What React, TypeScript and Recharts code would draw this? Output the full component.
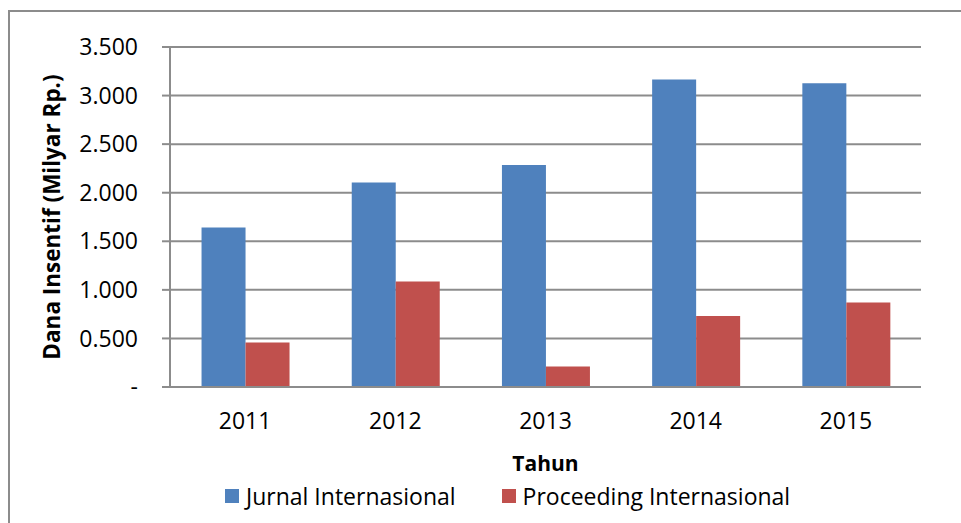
import React from "react";
import {
  BarChart,
  Bar,
  XAxis,
  YAxis,
  CartesianGrid,
  Legend,
  Label,
} from "recharts";

const years = ["2011", "2012", "2013", "2014", "2015"];
const jurnal = [1642, 2106, 2285, 3165, 3127];
const proceeding = [457, 1086, 210, 732, 869];
const yTicks = [0, 500, 1000, 1500, 2000, 2500, 3000, 3500];

const chartData = years.map((year, i) => ({
  year,
  jurnal: jurnal[i],
  proceeding: proceeding[i],
}));

const FONT = "'Open Sans', sans-serif";
const GRID = "#8c8c8c";

const formatTick = (v: number) => (v === 0 ? "-" : (v / 1000).toFixed(3));

function LegendContent() {
  const items = [
    { label: "Jurnal Internasional", color: "#4F81BD" },
    { label: "Proceeding Internasional", color: "#C0504D" },
  ];
  return (
    <div
      style={{
        height: 30,
        display: "flex",
        alignItems: "center",
        paddingLeft: 225,
        fontFamily: FONT,
        fontSize: 23,
        color: "#000",
      }}
    >
      {items.map((item, i) => (
        <div
          key={item.label}
          style={{ display: "flex", alignItems: "center", marginRight: i === 0 ? 46 : 0 }}
        >
          <div style={{ width: 14, height: 14, background: item.color, marginRight: 7 }} />
          <span style={{ lineHeight: "30px" }}>{item.label}</span>
        </div>
      ))}
    </div>
  );
}

export default function App() {
  return (
    <div
      style={{
        position: "fixed",
        left: 0,
        top: 0,
        width: 961,
        height: 523,
        overflow: "hidden",
        background: "#fff",
      }}
    >
      {/* outer chart frame, runs off the right and bottom edge */}
      <div
        style={{
          position: "absolute",
          left: 8,
          top: 10,
          width: 1000,
          height: 600,
          borderTop: `2px solid ${GRID}`,
          borderLeft: `2px solid ${GRID}`,
        }}
      />
      <BarChart
        width={961}
        height={523}
        data={chartData}
        margin={{ top: 47, right: 40, bottom: 12, left: 0 }}
        barCategoryGap="21%"
        barGap={0}
        style={{ position: "absolute", left: 0, top: 0 }}
      >
        <CartesianGrid vertical={false} stroke={GRID} strokeWidth={2} />
        <XAxis
          dataKey="year"
          height={94}
          tickLine={false}
          axisLine={{ stroke: GRID, strokeWidth: 2 }}
          tick={{ fontFamily: FONT, fontSize: 23, fill: "#000" }}
          tickMargin={20}
        >
          <Label
            content={({ viewBox }: any) => (
              <text
                x={viewBox.x + viewBox.width / 2}
                y={463}
                textAnchor="middle"
                dominantBaseline="central"
                fontFamily={FONT}
                fontSize={21}
                fontWeight="bold"
                fill="#000"
              >
                Tahun
              </text>
            )}
          />
        </XAxis>
        <YAxis
          width={170}
          domain={[0, 3500]}
          ticks={yTicks}
          interval={0}
          tickFormatter={formatTick}
          tickSize={8}
          tickMargin={24}
          tickLine={{ stroke: GRID, strokeWidth: 2 }}
          axisLine={{ stroke: GRID, strokeWidth: 2 }}
          tick={{ fontFamily: FONT, fontSize: 23, fill: "#000" }}
        >
          <Label
            content={({ viewBox }: any) => {
              const cy = viewBox.y + viewBox.height / 2;
              return (
                <text
                  x={51}
                  y={cy}
                  transform={`rotate(-90 51 ${cy})`}
                  textAnchor="middle"
                  dominantBaseline="central"
                  fontFamily={FONT}
                  fontSize={22.5}
                  fontWeight="bold"
                  fill="#000"
                >
                  Dana Insentif (Milyar Rp.)
                </text>
              );
            }}
          />
        </YAxis>
        <Legend verticalAlign="bottom" align="left" content={<LegendContent />} />
        <Bar dataKey="jurnal" name="Jurnal Internasional" fill="#4F81BD" isAnimationActive={false} />
        <Bar dataKey="proceeding" name="Proceeding Internasional" fill="#C0504D" isAnimationActive={false} />
      </BarChart>
    </div>
  );
}
